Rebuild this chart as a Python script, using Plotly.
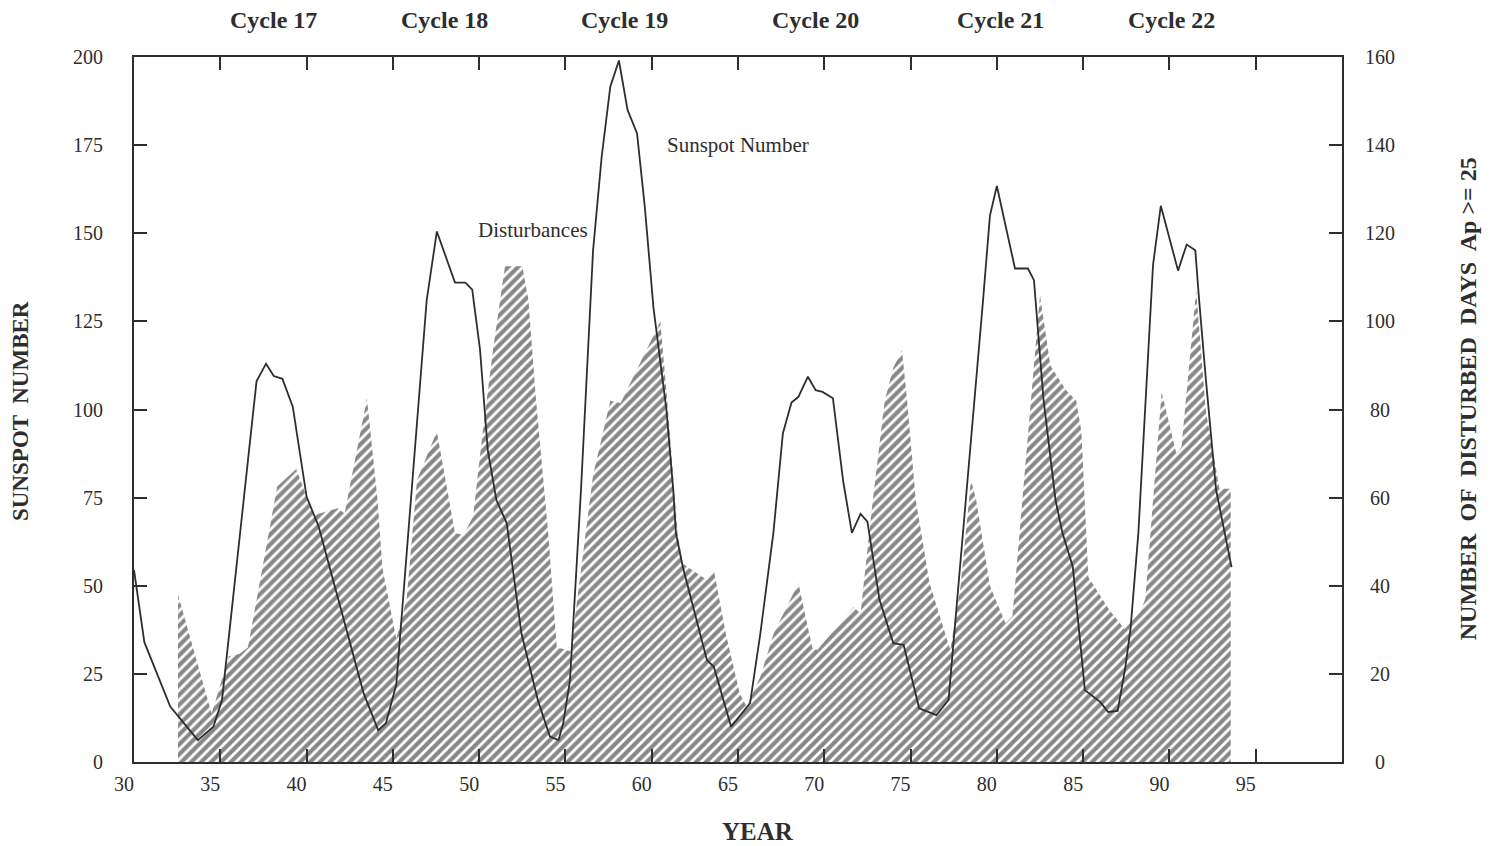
import plotly.graph_objects as go

# ---- data ----
ssn_year = [30.0, 30.6, 32.1, 33.7, 34.6, 35.1, 37.1, 37.65, 38.1, 38.6, 39.2, 40.0, 40.7, 41.9,
            43.3, 44.15, 44.6, 45.2, 46.96, 47.55, 48.6, 49.2, 49.6, 50.05, 50.5, 51.0, 51.6,
            52.45, 53.4, 54.1, 54.6, 54.87, 55.26, 55.9, 56.6, 57.1, 57.6, 58.1, 58.6, 59.15,
            59.6, 60.1, 60.6, 60.85, 61.25, 61.4, 61.8, 63.2, 63.6, 64.6, 65.7, 66.3, 67.05,
            67.6, 68.1, 68.5, 69.05, 69.5, 69.9, 70.5, 71.1, 71.6, 72.1, 72.5, 73.2, 74.0, 74.6,
            75.5, 76.5, 77.2, 79.2, 79.6, 80.0, 81.05, 81.8, 82.15, 82.7, 83.4, 83.8, 84.4,
            85.1, 86.0, 86.45, 87.0, 87.45, 87.75, 88.2, 89.05, 89.5, 90.5, 91.0, 91.5, 91.7,
            92.1, 92.7, 93.6]
ssn_value = [54.5, 34, 15.7, 6.2, 10, 17.6, 108, 113, 109.5, 108.7, 100.8, 75.3, 66.8, 45,
             19.6, 9, 11, 22, 131, 150.5, 136, 136, 134, 117, 88.5, 74.3, 67.7,
             36.5, 17.6, 7.2, 6.2, 11, 23, 77, 145, 171.7, 191.6, 199, 185, 178.3,
             157.5, 129, 110, 100, 77, 65, 55.4, 28.9, 27, 10, 16.7, 36.6, 65,
             93.2, 102, 103.6, 109.3, 105.5, 105, 103.2, 79.5, 65, 70.4, 68.2, 46, 33.7, 33.2,
             15.2, 13.3, 17.6, 131, 155, 163.4, 140, 140, 136.7, 103, 74.3, 65, 55.4,
             20.4, 17, 14.2, 14.5, 27, 38, 65, 141, 157.8, 139.4, 146.8, 145.2, 132.3,
             109.2, 77.3, 55.3]

dist_year = [32.55, 34.5, 35.5, 36.1, 36.6, 38.3, 39.4, 40.4, 41.8, 42.2, 43.5, 44.1, 44.4,
             45.2, 45.8, 46.4, 47.55, 48.4, 48.6, 49.1, 49.65, 50.2, 50.8, 51.5, 52.5, 52.85,
             53.3, 54.0, 54.5, 55.1, 55.3, 56.6, 57.3, 57.6, 58.2, 59.5, 60.5, 60.9, 61.5,
             61.8, 63.2, 63.6, 64.3, 65.1, 65.5, 66.3, 67.05, 68.5, 69.3, 69.6, 71.7, 72.1,
             72.8, 73.5, 74.0, 74.5, 74.8, 75.3, 76.1, 76.7, 77.3, 77.9, 78.5, 78.8, 79.6,
             80.5, 80.9, 82.5, 83.1, 84.0, 84.6, 84.9, 85.3, 86.5, 87.4, 88.3, 88.6, 89.55,
             90.4, 90.7, 91.55, 92.1, 92.9, 93.55]
dist_days = [38, 11, 24, 24.5, 26, 62.5, 66.5, 56, 57.6, 56.4, 82.5, 60, 44,
             28, 37, 64, 75, 56.5, 52, 51.5, 55.7, 74.6, 93.5, 112.5, 112.5, 105,
             82, 52, 26, 25.4, 25, 65, 77, 82, 81.5, 92, 100, 82, 52,
             45, 41.3, 43.6, 29, 15.6, 12.6, 19.4, 29, 40.6, 26, 25.4, 35.2, 33.7,
             59, 82, 89.5, 93.5, 82, 59.5, 40.6, 33, 25.4, 40, 64, 59.5, 40,
             31.5, 33, 106, 90, 84.4, 82, 75, 42, 34.6, 30.2, 34, 37, 84,
             70, 71.5, 107, 80, 62, 62]

x_ticks = [30, 35, 40, 45, 50, 55, 60, 65, 70, 75, 80, 85, 90, 95]
ssn_ticks = [0, 25, 50, 75, 100, 125, 150, 175, 200]
days_ticks = [0, 20, 40, 60, 80, 100, 120, 140, 160]

cycle_labels = ["Cycle 17", "Cycle 18", "Cycle 19", "Cycle 20", "Cycle 21", "Cycle 22"]
cycle_x = [38.1, 48.0, 58.4, 69.5, 80.2, 90.1]

INK = "#2e2e2e"
FONT = "Liberation Serif"


def centred(v):
    # right-axis labels are centred in the reference: pad shorter numbers
    s = str(v)
    pad = {1: "\u2002", 2: "\u2005", 3: ""}[len(s)]
    return pad + s


fig = go.Figure()

fig.add_trace(go.Scatter(
    x=dist_year, y=dist_days, yaxis="y", mode="lines",
    line=dict(width=0, color=INK),
    fill="tozeroy", fillcolor="rgba(0,0,0,0)",
    fillpattern=dict(shape="/", size=7, solidity=0.6, fgcolor="#111111", bgcolor="rgba(0,0,0,0)"),
    name="Disturbances", showlegend=False, hoverinfo="x+y",
))

fig.add_trace(go.Scatter(
    x=ssn_year, y=ssn_value, yaxis="y2", mode="lines",
    line=dict(width=1.8, color=INK),
    name="Sunspot Number", showlegend=False,
))

axis_font = dict(family=FONT, size=20, color=INK)

fig.update_layout(
    width=1484, height=838,
    margin=dict(l=126, r=150, t=49, b=84),
    paper_bgcolor="white", plot_bgcolor="white",
    font=dict(family=FONT, color=INK),
    xaxis=dict(
        range=[30, 100], tickvals=x_ticks, ticktext=[str(v) for v in x_ticks],
        ticks="inside", ticklen=13, tickwidth=1.5, tickcolor=INK,
        showline=True, linewidth=2, linecolor=INK, mirror="ticks",
        showgrid=False, zeroline=False, tickfont=axis_font,
        ticklabelshift=-10, ticklabelstandoff=3,
    ),
    yaxis=dict(
        side="right", range=[0, 160], tickvals=days_ticks,
        ticktext=[centred(v) for v in days_ticks],
        ticks="inside", ticklen=13, tickwidth=1.5, tickcolor=INK,
        showline=True, linewidth=2, linecolor=INK,
        showgrid=False, zeroline=False, tickfont=axis_font,
        ticklabelstandoff=17,
    ),
    yaxis2=dict(
        side="left", overlaying="y", range=[0, 200], tickvals=ssn_ticks,
        ticks="inside", ticklen=13, tickwidth=1.5, tickcolor=INK,
        showline=True, linewidth=2, linecolor=INK,
        showgrid=False, zeroline=False, tickfont=axis_font,
        ticklabelstandoff=25,
    ),
)

annotations = []
for lab, cx in zip(cycle_labels, cycle_x):
    annotations.append(dict(x=cx, y=1.0525, xref="x", yref="paper", text=f"<b>{lab}</b>",
                            xanchor="center", yanchor="middle",
                            showarrow=False, font=dict(family=FONT, size=24, color=INK)))
annotations += [
    dict(x=65.0, y=175, xref="x", yref="y2", text="Sunspot Number", showarrow=False,
         xanchor="center", yanchor="middle",
         font=dict(family=FONT, size=21, color=INK)),
    dict(x=53.1, y=151, xref="x", yref="y2", text="Disturbances", showarrow=False,
         xanchor="center", yanchor="middle",
         font=dict(family=FONT, size=21, color=INK)),
    dict(x=0.5166, y=-0.098, xref="paper", yref="paper", text="<b>YEAR</b>", showarrow=False,
         xanchor="center", yanchor="middle",
         font=dict(family=FONT, size=25, color=INK)),
    dict(x=-0.0935, y=0.498, xref="paper", yref="paper", text="<b>SUNSPOT  NUMBER</b>",
         xanchor="center", yanchor="middle",
         textangle=-90, showarrow=False, font=dict(family=FONT, size=23, color=INK)),
    dict(x=1.1043, y=0.516, xref="paper", yref="paper",
         text="<b>NUMBER  OF  DISTURBED  DAYS  Ap >= 25</b>",
         xanchor="center", yanchor="middle",
         textangle=-90, showarrow=False, font=dict(family=FONT, size=24, color=INK)),
]
fig.update_layout(annotations=annotations)

fig.write_html("out.html")
